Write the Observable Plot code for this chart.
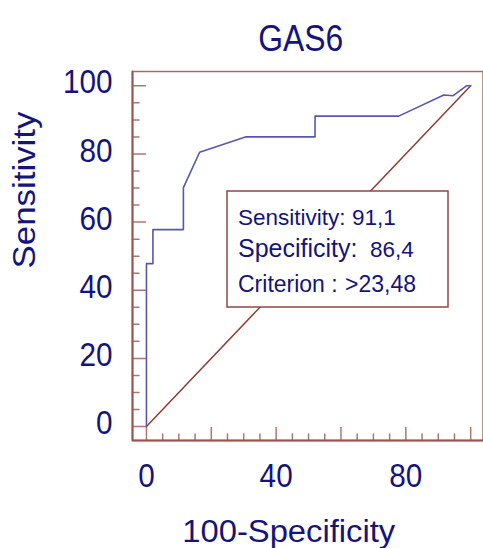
<!DOCTYPE html>
<html><head><meta charset="utf-8">
<script src="https://cdn.jsdelivr.net/npm/d3@7"></script>
<script src="https://cdn.jsdelivr.net/npm/@observablehq/plot@0.6"></script>
<style>
body{margin:0;background:#fff}
#wrap{width:483px;height:548px;overflow:hidden;background:#fff}
#wrap svg{display:block}
</style>
</head><body><div id="wrap"></div>
<script>
// ---- data ----
const title = "GAS6";
const xLabel = "100-Specificity";
const yLabel = "Sensitivity";
const fpr = [0, 0, 0, 2, 2, 11.4, 11.4, 16.4, 30.5, 52, 52, 77.8, 91.7, 94.6, 98.7, 100];
const tpr = [0, 2.3, 47.8, 47.8, 57.8, 57.8, 70.1, 80.5, 85, 85, 91.1, 91.1, 97.3, 97.1, 100, 100];
const diagX = [0, 100];
const diagY = [0, 100];
const xTickLabels = [0, 40, 80];
const yTickLabels = [0, 20, 40, 60, 80, 100];
const majorTicks = [0, 20, 40, 60, 80, 100];
const minorTicks = [5, 10, 15, 25, 30, 35, 45, 50, 55, 65, 70, 75, 85, 90, 95];
const statLabels = ["Sensitivity:", "Specificity:", "Criterion :"];
const statValues = ["91,1", "86,4", ">23,48"];

// ---- style ----
const textCol = "#14147a";
const frameCol = "#a86a64";
const axisCol = "#9a5550";
const tickCol = "#b0766f";
const diagCol = "#8e3e34";
const rocCol = "#5757b3";
const font = "'Liberation Sans', Arial, sans-serif";

const W = 483, H = 548, mL = 132, mR = 0.5, mT = 71, mB = 108;
const frameW = W - mL - mR, frameH = H - mT - mB;
const majorLen = 13, minorLen = 6.5;

const roc = fpr.map((x, i) => ({x, y: tpr[i]}));
const diag = diagX.map((x, i) => ({x, y: diagY[i]}));
const xDomain = [-4.3, 103.8];
const yDomain = [-4.1, 104.2];
// tick lengths expressed in scale units so they are drawn through the scales
const ux = (xDomain[1] - xDomain[0]) / frameW;
const uy = (yDomain[1] - yDomain[0]) / frameH;
const tickSegs = [];
const addTicks = (vals, len) => vals.forEach(v => {
  tickSegs.push({x: v, y: yDomain[0], z: "x" + v}, {x: v, y: yDomain[0] + len * uy, z: "x" + v});
  tickSegs.push({x: xDomain[0], y: v, z: "y" + v}, {x: xDomain[0] + len * ux, y: v, z: "y" + v});
});
addTicks(minorTicks, minorLen);
addTicks(majorTicks, majorLen);
const axisPath = [
  {x: xDomain[0], y: yDomain[1]},
  {x: xDomain[0], y: yDomain[0]},
  {x: xDomain[1], y: yDomain[0]}
];

const plot = Plot.plot({
  width: W, height: H,
  marginLeft: mL, marginRight: mR, marginTop: mT, marginBottom: mB,
  x: {domain: xDomain, label: null},
  y: {domain: yDomain, label: null},
  style: {fontFamily: font, background: "white", overflow: "visible"},
  marks: [
    Plot.frame({stroke: frameCol, strokeWidth: 1.5, fill: "none"}),
    Plot.line(tickSegs, {x: "x", y: "y", z: "z", stroke: tickCol, strokeWidth: 1.5}),
    Plot.line(axisPath, {x: "x", y: "y", stroke: axisCol, strokeWidth: 2}),
    Plot.axisX({ticks: xTickLabels, tickSize: 0, tickPadding: 23, fontSize: 33, label: null, fill: textCol}),
    Plot.axisY({ticks: yTickLabels, tickSize: 0, tickPadding: 20, fontSize: 33, dy: -3, label: null, fill: textCol}),
    Plot.line(diag, {x: "x", y: "y", stroke: diagCol, strokeWidth: 1.5}),
    Plot.line(roc, {x: "x", y: "y", stroke: rocCol, strokeWidth: 1.6}),
    Plot.text([title], {text: d => d, frameAnchor: "top", dx: -7, dy: -21, lineAnchor: "bottom", fontSize: 36, fill: textCol}),
    Plot.text([xLabel], {text: d => d, frameAnchor: "bottom", dx: -19, dy: 79, lineAnchor: "top", fontSize: 31, fill: textCol}),
    Plot.text([yLabel], {text: d => d, frameAnchor: "left", dx: -107.5, dy: 12.5, rotate: -90, fontSize: 32, fill: textCol})
  ]
});
const wrap = document.getElementById("wrap");
wrap.appendChild(plot);
const svg = d3.select(plot);

// annotation box
const note = svg.append("g").attr("class", "note");
note.append("rect").attr("x", 227).attr("y", 191).attr("width", 221).attr("height", 116)
  .attr("fill", "white").attr("stroke", "#8b4a44").attr("stroke-width", 1.5);
const ng = note.append("g").attr("font-family", font).attr("fill", textCol).attr("text-anchor", "start");
const t1 = ng.append("text").attr("x", 238).attr("y", 225).attr("font-size", 22.5);
t1.append("tspan").text(statLabels[0]);
t1.append("tspan").attr("x", 352).text(statValues[0]);
const t2 = ng.append("text").attr("x", 238).attr("y", 257).attr("font-size", 25);
t2.append("tspan").text(statLabels[1]);
t2.append("tspan").attr("x", 370).attr("font-size", 22.5).text(statValues[1]);
const t3 = ng.append("text").attr("x", 238).attr("y", 291.5).attr("font-size", 23);
t3.append("tspan").text(statLabels[2]);
t3.append("tspan").attr("x", 345).text(statValues[2]);

// horizontal squeeze of the plot's text to match the reference's taller glyphs
function fit(node, len) {
  node.setAttribute("textLength", len);
  node.setAttribute("lengthAdjust", "spacingAndGlyphs");
}
svg.selectAll("text").filter(function () { return !this.closest(".note"); }).each(function () {
  const t = this.textContent;
  const L = this.getComputedTextLength();
  if (t === title) fit(this, 85);
  else if (t === xLabel) fit(this, 213);
  else if (t === yLabel) fit(this, 157);
  else fit(this, L * 0.9);
});
</script>
</body></html>
